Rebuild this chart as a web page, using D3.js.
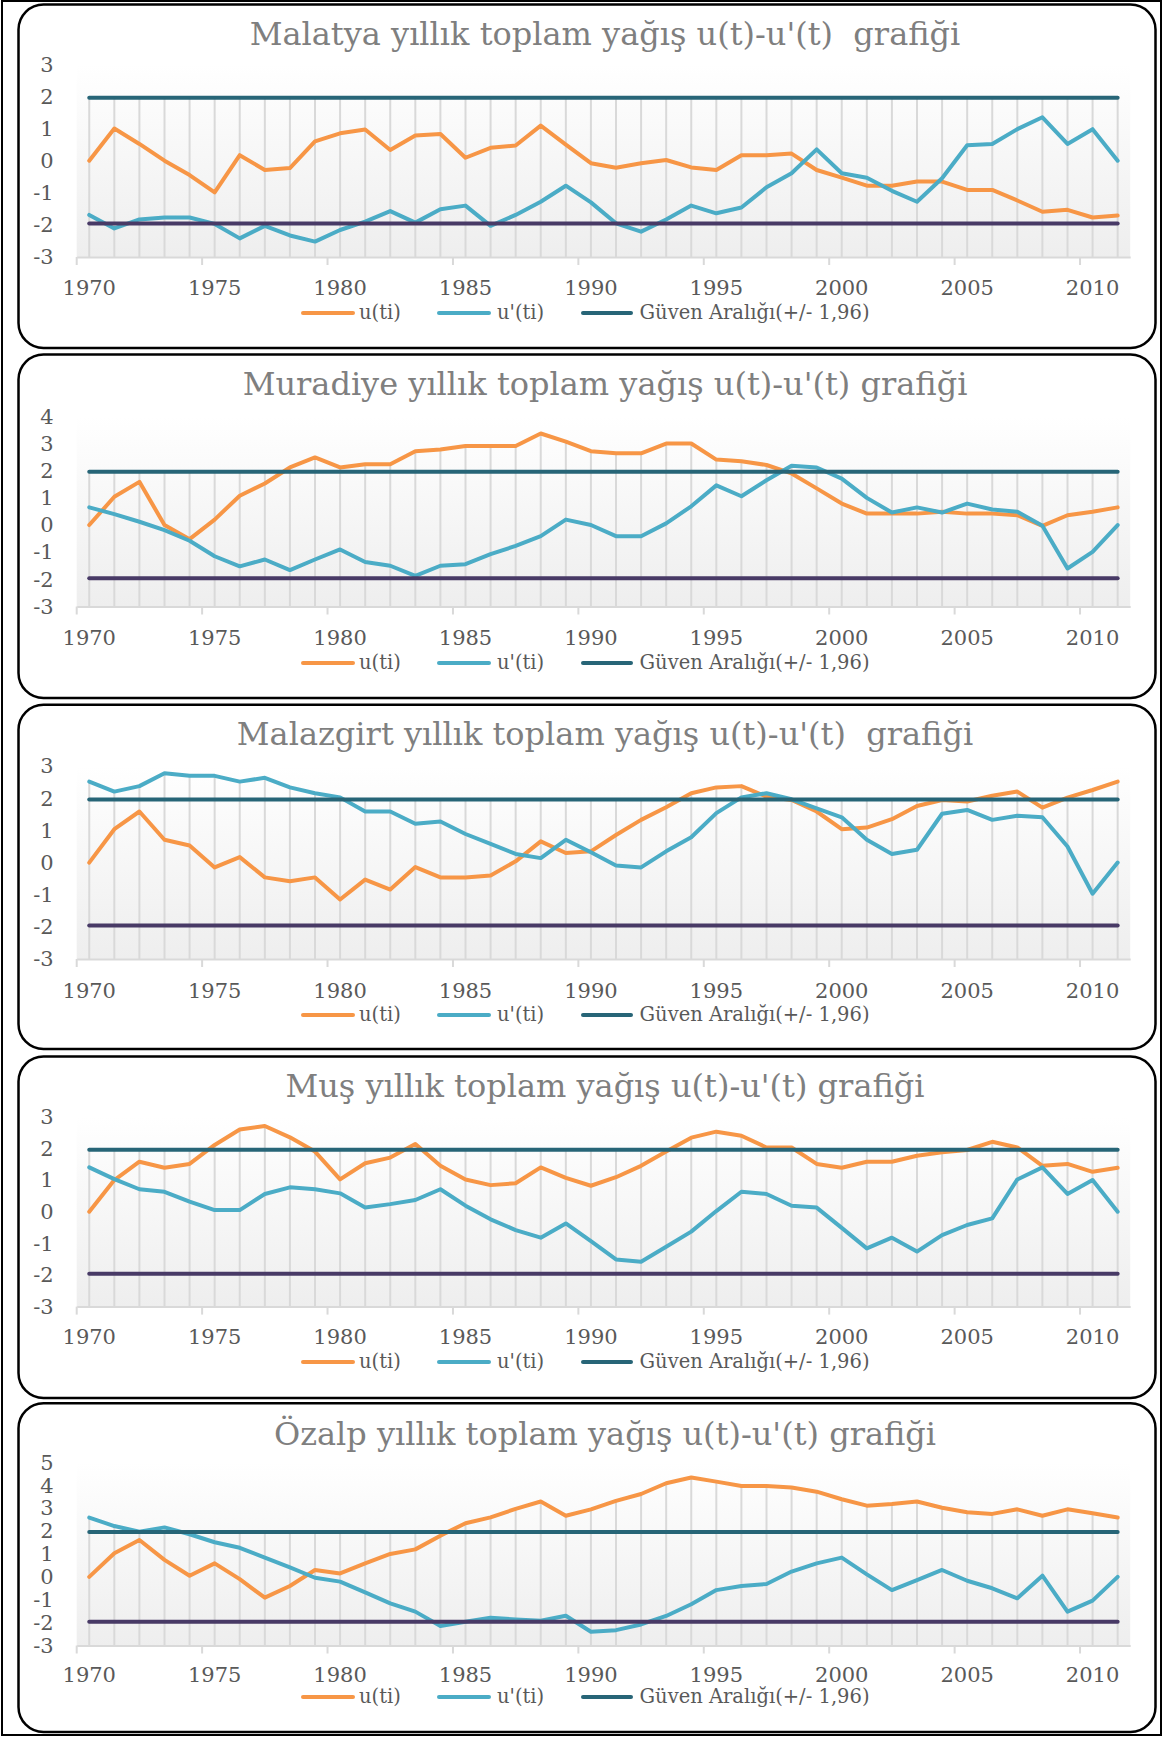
<!DOCTYPE html>
<html><head><meta charset="utf-8">
<script src="https://cdn.jsdelivr.net/npm/d3@7"></script>
<style>
html,body{margin:0;padding:0;background:#fff;}
svg{display:block;}
text{font-family:"DejaVu Serif",serif;white-space:pre;}
</style></head><body>
<svg id="chart" width="1165" height="1737"></svg>
<script>
// ---------- data ----------
const years = [1970,1971,1972,1973,1974,1975,1976,1977,1978,1979,1980,1981,1982,1983,1984,1985,1986,1987,1988,1989,
  1990,1991,1992,1993,1994,1995,1996,1997,1998,1999,2000,2001,2002,2003,2004,2005,2006,2007,2008,2009,2010,2011];
const xTickLabels = ["1970","1975","1980","1985","1990","1995","2000","2005","2010"];
const legendLabels = ["u(ti)", "u'(ti)", "Güven Aralığı(+/- 1,96)"];
const confidenceLimit = 1.96;
const titles = [
  "Malatya yıllık toplam yağış u(t)-u'(t)  grafiği",
  "Muradiye yıllık toplam yağış u(t)-u'(t) grafiği",
  "Malazgirt yıllık toplam yağış u(t)-u'(t)  grafiği",
  "Muş yıllık toplam yağış u(t)-u'(t) grafiği",
  "Özalp yıllık toplam yağış u(t)-u'(t) grafiği"
];

const malatyaU = [0,1.0,0.52,0.0,-0.45,-0.99,0.17,-0.29,-0.23,0.60,0.85,0.97,0.33,0.78,0.83,0.09,0.40,0.47,1.09,0.50,
  -0.08,-0.22,-0.08,0.02,-0.21,-0.29,0.17,0.17,0.22,-0.29,-0.53,-0.78,-0.78,-0.65,-0.65,-0.91,-0.91,-1.24,-1.59,-1.53,-1.77,-1.71];
const malatyaUp = [-1.69,-2.11,-1.83,-1.77,-1.77,-1.97,-2.42,-2.03,-2.33,-2.52,-2.16,-1.90,-1.57,-1.93,-1.51,-1.40,-2.03,-1.69,-1.28,-0.78,
  -1.30,-1.95,-2.21,-1.83,-1.40,-1.64,-1.46,-0.83,-0.39,0.35,-0.39,-0.53,-0.94,-1.28,-0.55,0.48,0.52,0.98,1.35,0.52,0.98,0];

const muradiyeU = [0,1.04,1.59,0.0,-0.52,0.20,1.08,1.53,2.12,2.49,2.12,2.24,2.24,2.72,2.78,2.91,2.91,2.91,3.37,3.07,
  2.72,2.64,2.64,3.00,3.00,2.41,2.35,2.21,1.90,1.35,0.79,0.42,0.42,0.42,0.49,0.42,0.42,0.36,-0.03,0.36,0.49,0.65];
const muradiyeUp = [0.65,0.40,0.12,-0.19,-0.58,-1.15,-1.52,-1.27,-1.66,-1.27,-0.90,-1.36,-1.50,-1.87,-1.50,-1.44,-1.07,-0.77,-0.41,0.20,
  0.0,-0.41,-0.41,0.06,0.69,1.46,1.06,1.65,2.18,2.12,1.71,1.00,0.46,0.65,0.46,0.79,0.57,0.49,-0.03,-1.60,-0.99,0];

const malazgirtU = [0,1.04,1.59,0.71,0.53,-0.15,0.17,-0.46,-0.58,-0.46,-1.15,-0.53,-0.84,-0.14,-0.46,-0.46,-0.40,0.04,0.66,0.30,
  0.35,0.86,1.33,1.72,2.16,2.34,2.38,2.05,1.95,1.59,1.04,1.09,1.35,1.76,1.95,1.90,2.08,2.21,1.71,2.02,2.26,2.52];
const malazgirtUp = [2.52,2.21,2.38,2.78,2.70,2.70,2.52,2.64,2.34,2.16,2.03,1.59,1.59,1.21,1.28,0.89,0.58,0.27,0.14,0.71,
  0.32,-0.09,-0.15,0.35,0.79,1.54,2.03,2.16,1.97,1.69,1.41,0.71,0.27,0.40,1.52,1.64,1.33,1.46,1.41,0.50,-0.97,0];

const musU = [0,1.00,1.58,1.39,1.51,2.11,2.60,2.71,2.35,1.90,1.02,1.53,1.71,2.14,1.45,1.02,0.84,0.90,1.40,1.07,
  0.82,1.09,1.45,1.90,2.34,2.53,2.40,2.03,2.03,1.51,1.39,1.58,1.58,1.77,1.88,1.95,2.21,2.03,1.45,1.51,1.26,1.39];
const musUp = [1.40,1.03,0.71,0.63,0.32,0.05,0.05,0.56,0.77,0.71,0.58,0.13,0.24,0.37,0.71,0.19,-0.24,-0.58,-0.82,-0.37,
  -0.93,-1.51,-1.58,-1.11,-0.63,0.02,0.63,0.56,0.19,0.13,-0.51,-1.16,-0.82,-1.26,-0.74,-0.42,-0.21,1.02,1.40,0.56,1.00,0];

const ozalpU = [0,1.03,1.61,0.74,0.05,0.59,-0.10,-0.91,-0.40,0.30,0.15,0.59,1.00,1.20,1.80,2.34,2.60,2.97,3.29,2.67,
  2.95,3.32,3.62,4.09,4.34,4.16,3.97,3.97,3.90,3.72,3.39,3.11,3.18,3.29,3.02,2.82,2.75,2.95,2.67,2.95,2.78,2.59];
const ozalpUp = [2.59,2.22,1.97,2.16,1.86,1.51,1.27,0.84,0.41,-0.04,-0.21,-0.68,-1.16,-1.52,-2.15,-1.96,-1.79,-1.86,-1.92,-1.70,
  -2.40,-2.33,-2.08,-1.71,-1.20,-0.58,-0.40,-0.31,0.23,0.59,0.84,0.11,-0.58,-0.14,0.30,-0.17,-0.50,-0.94,0.05,-1.52,-1.04,0];

const yTicks3 = [-3,-2,-1,0,1,2,3];
const yTicks4 = [-3,-2,-1,0,1,2,3,4];
const yTicks5 = [-3,-2,-1,0,1,2,3,4,5];

// ---------- layout ----------
const panels = [
  {title:titles[0], u:malatyaU,   up:malatyaUp,   ticks:yTicks3, box:[4.5,348],     plot:[64.3,257],     titleY:45,     xLabY:295,    legY:313},
  {title:titles[1], u:muradiyeU,  up:muradiyeUp,  ticks:yTicks4, box:[354.5,698],   plot:[416.4,606.5],  titleY:395,    xLabY:645,    legY:663},
  {title:titles[2], u:malazgirtU, up:malazgirtUp, ticks:yTicks3, box:[704.7,1049],  plot:[766.2,959],    titleY:745,    xLabY:997.5,  legY:1015},
  {title:titles[3], u:musU,       up:musUp,       ticks:yTicks3, box:[1056.5,1398], plot:[1116.8,1306.6],titleY:1096.7, xLabY:1344,   legY:1362},
  {title:titles[4], u:ozalpU,     up:ozalpUp,     ticks:yTicks5, box:[1403.3,1732], plot:[1462.4,1645.5],titleY:1445,   xLabY:1682,   legY:1697}
];
const C = {u:"#F79646", up:"#4BACC6", hi:"#276577", lo:"#483a66", grid:"#d9d9d9", axisText:"#595959", title:"#7f7f7f"};
const plotLeft = 76.7, plotRight = 1130.2;

const svg = d3.select("#chart");
const defs = svg.append("defs");
const grad = defs.append("linearGradient").attr("id","pa").attr("x1",0).attr("y1",0).attr("x2",0).attr("y2",1);
grad.append("stop").attr("offset","0%").attr("stop-color","#ffffff");
grad.append("stop").attr("offset","100%").attr("stop-color","#eeeeee");

// outer frame
svg.append("rect").attr("x",2).attr("y",1).attr("width",1159).attr("height",1734)
  .attr("fill","none").attr("stroke","#000").attr("stroke-width",2);

const x = d3.scaleBand().domain(years).range([plotLeft, plotRight]).paddingInner(0).paddingOuter(0);
const bw = x.bandwidth();
const cx = d => x(d) + bw/2;

panels.forEach(p => {
  const g = svg.append("g");
  g.append("rect").attr("x",18.5).attr("y",p.box[0]).attr("width",1137).attr("height",p.box[1]-p.box[0])
    .attr("rx",25).attr("ry",25).attr("fill","#fff").attr("stroke","#000").attr("stroke-width",2.5);

  const yMin = d3.min(p.ticks), yMax = d3.max(p.ticks);
  const y = d3.scaleLinear().domain([yMin, yMax]).range([p.plot[1], p.plot[0]]);

  g.append("rect").attr("x",plotLeft).attr("y",y(yMax)).attr("width",plotRight-plotLeft)
    .attr("height",y(yMin)-y(yMax)).attr("fill","url(#pa)");

  // drop lines
  g.append("g").selectAll("line").data(years).join("line")
    .attr("x1",d=>cx(d)).attr("x2",d=>cx(d))
    .attr("y1",(d,i)=>y(Math.max(p.u[i], p.up[i], confidenceLimit)))
    .attr("y2",y(yMin))
    .attr("stroke",C.grid).attr("stroke-width",2);

  // title
  g.append("text").attr("x",605).attr("y",p.titleY).attr("text-anchor","middle")
    .attr("font-size",32).attr("fill",C.title).text(p.title);

  // y axis
  const ya = g.append("g").attr("transform",`translate(${plotLeft},0)`)
    .call(d3.axisLeft(y).tickValues(p.ticks).tickSize(0).tickPadding(23).tickFormat(d=>String(d)));
  ya.select(".domain").remove();
  ya.selectAll("text").attr("font-size",21).attr("fill",C.axisText).attr("font-family","DejaVu Serif");

  // x axis
  const tickYears = xTickLabels.map(Number);
  const xa = g.append("g").attr("transform",`translate(0,${y(yMin)})`)
    .call(d3.axisBottom(x).tickValues(tickYears).tickSizeInner(8).tickSizeOuter(0).tickFormat((d,i)=>xTickLabels[i]));
  xa.select(".domain").attr("stroke",C.grid).attr("stroke-width",2);
  xa.selectAll(".tick line").attr("stroke",C.grid).attr("stroke-width",2)
    .attr("transform",`translate(${-bw/2},0)`);
  xa.selectAll(".tick text").attr("y", p.xLabY - y(yMin)).attr("dy",0)
    .attr("font-size",21).attr("fill",C.axisText).attr("font-family","DejaVu Serif");

  // series
  const line = d3.line().x((d,i)=>cx(years[i])).y(d=>y(d));
  const hiSeries = years.map(()=>confidenceLimit);
  const loSeries = years.map(()=>-confidenceLimit);
  const series = [[p.u,C.u],[p.up,C.up],[hiSeries,C.hi],[loSeries,C.lo]];
  series.forEach(([vals,col]) => {
    g.append("path").attr("d",line(vals)).attr("fill","none").attr("stroke",col)
      .attr("stroke-width",4).attr("stroke-linejoin","round").attr("stroke-linecap","round");
  });

  // legend
  const leg = [[301,355,359,C.u],[437,491,497,C.up],[581,633,639.5,C.hi]];
  leg.forEach(([a,b,t,col],i) => {
    g.append("line").attr("x1",a+2).attr("x2",b-2).attr("y1",p.legY).attr("y2",p.legY)
      .attr("stroke",col).attr("stroke-width",4).attr("stroke-linecap","round");
    g.append("text").attr("x",t).attr("y",p.legY+5.5).attr("font-size",19.5).attr("fill",C.axisText)
      .text(legendLabels[i]);
  });
});
</script>
</body></html>
